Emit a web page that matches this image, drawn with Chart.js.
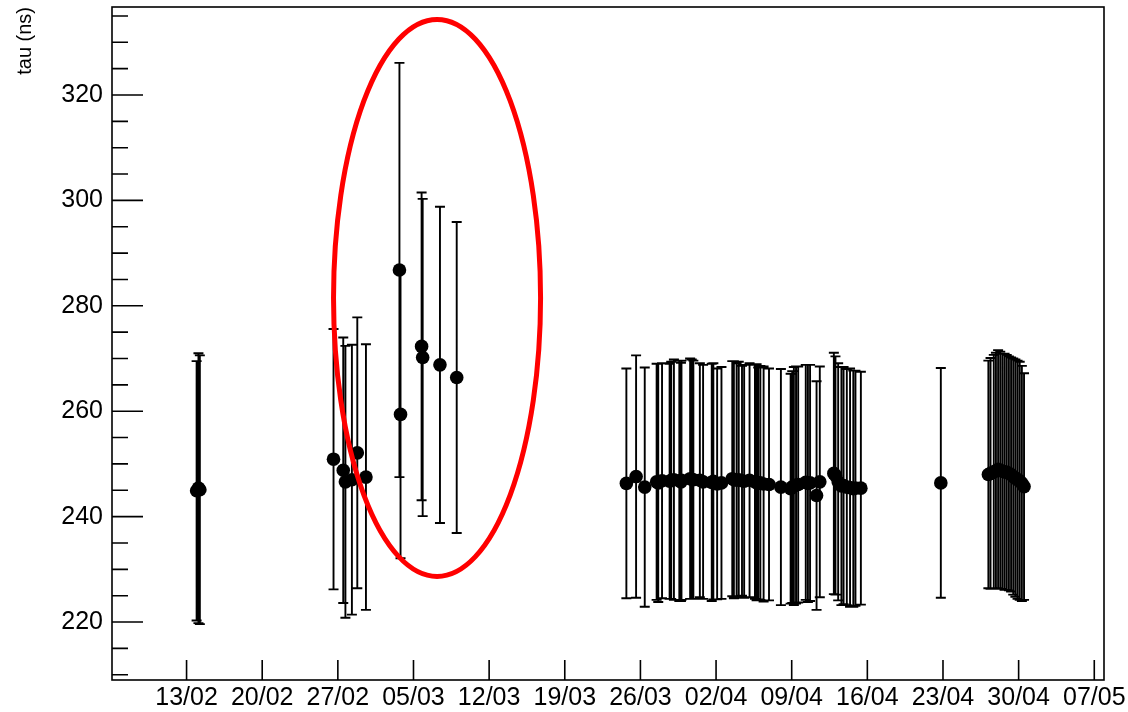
<!DOCTYPE html>
<html>
<head>
<meta charset="utf-8">
<script src="https://cdn.jsdelivr.net/npm/chart.js@4.4.1/dist/chart.umd.min.js"></script>
<style>
  html, body { margin: 0; padding: 0; background: #fff; }
  #wrap { width: 1128px; height: 712px; }
</style>
</head>
<body>
<div id="wrap"><canvas id="tauChart" width="1128" height="712"></canvas></div>
<script>
// x = days since 13/02, y = tau (ns), err = symmetric error (ns)
const days = [
  0.93, 1.10, 1.23,
  13.6, 14.5, 14.7, 15.3, 15.8, 16.6,
  19.7, 19.8, 21.75, 21.85, 23.45, 25.0,
  40.7, 41.6, 42.4, 43.5, 43.65, 44.0, 44.7, 44.85, 45.1, 45.6, 45.75, 45.8, 46.6, 46.75,
  46.9, 47.5, 47.8, 48.6, 48.75, 49.1, 49.5, 50.5, 50.65, 50.9, 51.1, 51.4, 51.6,
  52.1, 52.6, 52.75, 52.9, 53.1, 53.4, 53.9, 55.0, 55.9, 56.05, 56.2, 56.4, 56.6,
  57.3, 57.5, 57.7, 58.3, 58.6, 59.9, 60.05, 60.3, 60.6, 60.8, 61.1, 61.4, 61.7, 61.9, 62.4,
  69.8,
  74.2, 74.4, 74.7, 74.9, 75.1, 75.3, 75.5, 75.7, 75.9, 76.1, 76.3, 76.5, 76.7, 76.9, 77.1, 77.3, 77.5
];
const tau = [
  244.9, 245.4, 245.1,
  250.9, 248.8, 246.6, 247.0, 252.1, 247.5,
  286.8, 259.4, 272.3, 270.2, 268.8, 266.4,
  246.3, 247.6, 245.6, 246.6, 246.4, 246.8, 246.7, 246.9, 247.0, 246.8, 246.6, 246.9, 247.2, 247.1,
  247.0, 246.9, 246.6, 246.5, 246.7, 246.2, 246.4, 247.2, 247.0, 246.9, 247.0, 246.8, 246.7,
  246.9, 246.6, 246.5, 246.3, 246.4, 246.2, 246.1, 245.6, 245.3, 245.6, 245.8, 246.0, 246.1,
  246.5, 246.3, 246.4, 244.0, 246.6, 248.2, 247.8, 246.6, 245.8, 245.9, 245.6, 245.5, 245.3, 245.4, 245.4,
  246.4,
  248.0, 248.2, 248.5, 248.7, 249.0, 248.8, 248.6, 248.5, 248.4, 248.2, 248.0, 247.6, 247.3, 247.0, 246.8, 246.3, 245.7
];
const tauErr = [
  24.6, 25.6, 25.5,
  24.7, 25.2, 25.8, 25.6, 25.7, 25.2,
  39.3, 27.3, 29.2, 30.1, 30.0, 29.5,
  21.8, 23.0, 22.7, 22.4, 22.6, 22.3, 22.3, 22.5, 22.8, 22.8, 22.6, 22.7, 22.8, 22.7,
  22.6, 22.2, 22.2, 22.5, 22.4, 21.9, 22.0, 22.3, 22.5, 22.2, 22.4, 21.8, 22.1,
  22.2, 22.2, 22.4, 22.0, 22.2, 22.3, 22.0, 22.4, 21.8, 22.0, 22.6, 22.5, 22.4,
  22.3, 22.5, 22.4, 21.7, 21.9, 22.9, 22.6, 22.5, 22.6, 22.5, 22.4, 22.6, 22.4, 22.3, 22.1,
  21.8,
  21.6, 21.9, 22.2, 22.4, 22.6, 22.5, 22.3, 22.4, 22.3, 22.2, 22.2, 22.4, 22.5, 22.6, 22.6, 22.3, 21.5
];

const xTickDays = [0, 7, 14, 21, 28, 35, 42, 49, 56, 63, 70, 77, 84];
const xTickLabels = ["13/02", "20/02", "27/02", "05/03", "12/03", "19/03", "26/03",
                     "02/04", "09/04", "16/04", "23/04", "30/04", "07/05"];
const yTicks = [220, 240, 260, 280, 300, 320];
const yMinorTicks = [210, 215, 225, 230, 235, 245, 250, 255, 265, 270, 275, 285, 290, 295, 305, 310, 315, 325, 330, 335];

// highlighted region (center day, center tau, half-width in days, half-height in ns)
const highlight = { day: 23.18, tau: 281.5, dDays: 9.58, dTau: 52.85 };

const points = days.map((d, i) => ({ x: d, y: tau[i] }));

const noPad = s => { s.paddingTop = 0; s.paddingBottom = 0; s.paddingLeft = 0; s.paddingRight = 0; };

const rootStyle = {
  id: "rootStyle",
  beforeDatasetsDraw(chart) {
    const { ctx, scales: { x, y } } = chart;
    ctx.save();
    ctx.strokeStyle = "#000";
    ctx.lineWidth = 1.9;
    ctx.beginPath();
    days.forEach((d, i) => {
      const px = x.getPixelForValue(d);
      const top = y.getPixelForValue(tau[i] + tauErr[i]);
      const bot = y.getPixelForValue(tau[i] - tauErr[i]);
      ctx.moveTo(px, top); ctx.lineTo(px, bot);
      ctx.moveTo(px - 5, top); ctx.lineTo(px + 5, top);
      ctx.moveTo(px - 5, bot); ctx.lineTo(px + 5, bot);
    });
    ctx.stroke();
    ctx.restore();
  },
  afterDatasetsDraw(chart) {
    const { ctx, chartArea: a, scales: { x, y } } = chart;
    ctx.save();
    // frame
    ctx.strokeStyle = "#000";
    ctx.lineWidth = 1.6;
    ctx.strokeRect(a.left, a.top, a.right - a.left, a.bottom - a.top);
    // ticks drawn inwards
    ctx.beginPath();
    yTicks.forEach(v => {
      const py = y.getPixelForValue(v);
      ctx.moveTo(a.left, py); ctx.lineTo(a.left + 31, py);
    });
    yMinorTicks.forEach(v => {
      const py = y.getPixelForValue(v);
      ctx.moveTo(a.left, py); ctx.lineTo(a.left + 16, py);
    });
    xTickDays.forEach(d => {
      const px = x.getPixelForValue(d);
      ctx.moveTo(px, a.bottom); ctx.lineTo(px, a.bottom - 20);
    });
    ctx.stroke();
    // red ellipse
    const cx = x.getPixelForValue(highlight.day);
    const cy = y.getPixelForValue(highlight.tau);
    const rx = x.getPixelForValue(highlight.day + highlight.dDays) - cx;
    const ry = cy - y.getPixelForValue(highlight.tau + highlight.dTau);
    ctx.strokeStyle = "#ff0000";
    ctx.lineWidth = 5;
    ctx.beginPath();
    ctx.ellipse(cx, cy, rx, ry, 0, 0, Math.PI * 2);
    ctx.stroke();
    ctx.restore();
  }
};

const ctx = document.getElementById("tauChart").getContext("2d");
const tauChart = new Chart(ctx, {
  type: "scatter",
  data: {
    datasets: [{
      data: points,
      backgroundColor: "#000",
      borderColor: "#000",
      borderWidth: 0,
      pointRadius: 6.8,
      pointHoverRadius: 6.8
    }]
  },
  options: {
    responsive: false,
    animation: false,
    events: [],
    layout: { padding: { top: 7, right: 24, left: 0, bottom: 0 } },
    plugins: { legend: { display: false }, tooltip: { enabled: false } },
    scales: {
      x: {
        type: "linear",
        min: -6.9,
        max: 84.9,
        grid: { display: false, drawTicks: false },
        border: { display: false },
        afterBuildTicks: s => { s.ticks = xTickDays.map(v => ({ value: v })); },
        afterFit: s => { s.height = 32; noPad(s); },
        ticks: {
          autoSkip: false,
          maxRotation: 0,
          padding: 3,
          color: "#000",
          font: { family: "Liberation Sans", size: 25 },
          callback: v => xTickLabels[xTickDays.indexOf(v)]
        }
      },
      y: {
        type: "linear",
        min: 209.0,
        max: 336.7,
        grid: { display: false, drawTicks: false },
        border: { display: false },
        afterBuildTicks: s => { s.ticks = yTicks.map(v => ({ value: v })); },
        afterFit: s => { s.width = 112; noPad(s); },
        ticks: {
          padding: 9,
          color: "#000",
          font: { family: "Liberation Sans", size: 25 }
        },
        title: {
          display: true,
          text: "tau (ns)",
          align: "end",
          color: "#000",
          padding: { top: 13, bottom: 0 },
          font: { family: "Liberation Sans", size: 20 }
        }
      }
    }
  },
  plugins: [rootStyle]
});
</script>
</body>
</html>
